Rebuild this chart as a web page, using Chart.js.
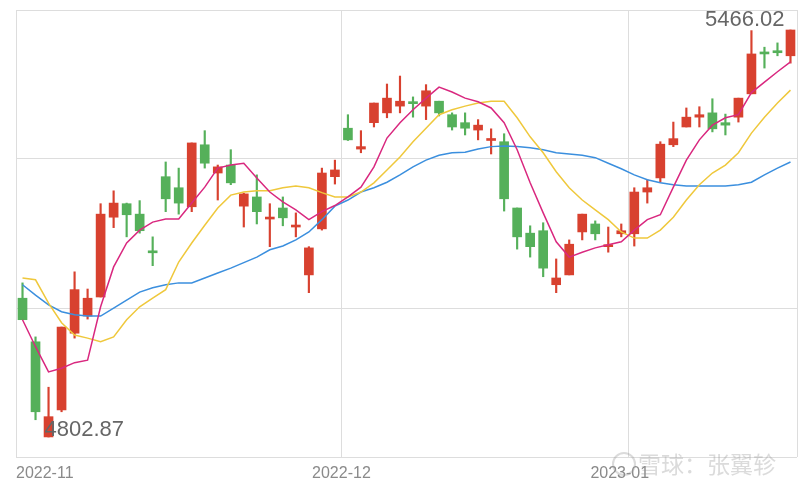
<!DOCTYPE html>
<html><head><meta charset="utf-8">
<script src="https://cdn.jsdelivr.net/npm/chart.js@4/dist/chart.umd.min.js"></script>
<style>html,body{margin:0;padding:0;background:#fff}</style>
</head><body><canvas id="c" width="800" height="491"></canvas>
<script>
const openP =[5029,4958,4803,4847,4972,5000,5031,5161,5183,5166,5106,5227,5209,5178,5279,5233,5246,5179,5194,5158,5176,5145,5067,5142,5227,5306,5272,5315,5331,5342,5348,5342,5350,5328,5315,5303,5286,5284,5176,5135,5139,5051,5067,5137,5150,5113,5134,5134,5202,5225,5279,5308,5324,5331,5315,5324,5362,5430,5432,5424];
const closeP=[4994,4844,4836,4982,5043,5029,5166,5184,5165,5139,5103,5191,5184,5282,5249,5243,5217,5199,5170,5161,5160,5148,5111,5233,5238,5287,5276,5347,5355,5350,5346,5367,5331,5308,5306,5311,5289,5191,5129,5113,5078,5062,5117,5166,5134,5116,5139,5202,5209,5280,5289,5324,5328,5305,5311,5355,5427,5427,5429,5466.02];
const highP =[5054,4966,4884,4982,5072,5044,5183,5204,5184,5188,5129,5251,5241,5282,5302,5246,5271,5200,5230,5183,5194,5168,5113,5241,5254,5328,5302,5347,5378,5391,5357,5377,5350,5331,5331,5320,5305,5297,5176,5147,5152,5093,5124,5166,5155,5145,5150,5209,5222,5284,5316,5339,5341,5354,5329,5355,5465,5438,5445,5466.02];
const lowP  =[4994,4831,4802.87,4844,4964,4995,5031,5144,5129,5135,5082,5170,5166,5170,5241,5189,5214,5145,5150,5113,5147,5129,5038,5140,5215,5286,5266,5308,5323,5331,5324,5320,5326,5303,5295,5287,5264,5171,5109,5096,5064,5038,5067,5124,5124,5104,5129,5114,5184,5218,5276,5308,5308,5300,5295,5316,5362,5404,5424,5412];
const ma5 =[4994,4950,4909,4915,4924,4928,5015,5080,5119,5140,5153,5158,5158,5184,5210,5241,5246,5249,5225,5202,5186,5173,5157,5170,5180,5194,5210,5243,5290,5315,5336,5355,5373,5365,5355,5349,5339,5315,5271,5217,5168,5121,5096,5104,5111,5116,5121,5140,5157,5165,5210,5254,5287,5311,5323,5328,5364,5381,5398,5414];
const ma10=[5062,5059,5021,4989,4969,4964,4958,4966,4994,5015,5029,5043,5088,5119,5148,5176,5197,5202,5204,5204,5209,5212,5209,5201,5194,5194,5202,5217,5238,5259,5284,5306,5328,5336,5342,5347,5350,5350,5323,5292,5266,5235,5209,5189,5173,5157,5137,5127,5127,5140,5161,5189,5214,5233,5246,5266,5298,5324,5347,5368];
const ma20=[5051,5034,5018,5007,5002,5000,5000,5013,5026,5039,5046,5051,5054,5054,5062,5070,5078,5087,5096,5108,5114,5124,5137,5157,5179,5189,5202,5209,5218,5230,5243,5254,5262,5266,5267,5272,5276,5277,5276,5274,5271,5266,5264,5262,5258,5249,5240,5230,5222,5217,5214,5212,5212,5212,5212,5214,5218,5230,5241,5251];
const monthLabels=["2022-11","2022-12","2023-01"];
const monthStarts=[0,25,47];
const hiIdx=59, loIdx=2;

const labels=openP.map((_,i)=>i);
const RED='#d8412f', GREEN='#55b05a';
const col=openP.map((o,i)=>closeP[i]>=o?RED:GREEN);
const yMin=4770.3, yMax=5498.6;

const overlay={id:'ov',
 beforeDatasetsDraw(ch){
  const c=ch.ctx,a=ch.chartArea;
  c.save();c.strokeStyle='#dddddd';c.lineWidth=1;
  [...monthStarts,openP.length].forEach(m=>{
    const x=Math.round(a.left+(a.right-a.left)*m/openP.length)+0.5;
    c.beginPath();c.moveTo(x,a.top);c.lineTo(x,a.bottom);c.stroke();
  });
  c.restore();
 },
 afterDraw(ch){
  const c=ch.ctx,xs=ch.scales.x,ys=ch.scales.y,a=ch.chartArea;
  c.save();
  c.font='16px "Liberation Sans", Arial';c.fillStyle='#8a8a8a';c.textBaseline='middle';
  monthStarts.forEach((m,k)=>{
    const x=a.left+(a.right-a.left)*m/openP.length;
    c.textAlign=k===0?'left':'center';
    c.fillText(monthLabels[k],k===0?a.left:(k===2?x-8:x),a.bottom+17);
  });
  c.font='22px "Liberation Sans", Arial';c.fillStyle='#666';
  c.textAlign='right';c.fillText(highP[hiIdx].toFixed(2),xs.getPixelForValue(hiIdx)-6,ys.getPixelForValue(highP[hiIdx])-10);
  c.textAlign='left';c.fillText(lowP[loIdx].toFixed(2),xs.getPixelForValue(loIdx)-4,ys.getPixelForValue(lowP[loIdx])-7);
  c.globalAlpha=0.35;c.fillStyle='#999';c.font='23px "Noto Sans CJK SC"';
  c.fillText('雪球：张翼轸',638,464);
  c.strokeStyle='#999';c.lineWidth=2;c.beginPath();c.arc(624,464,11,0,Math.PI*2);c.stroke();
  c.restore();
}};

new Chart(document.getElementById('c'),{
  type:'bar',
  data:{labels,datasets:[
    {type:'line',data:ma5,borderColor:'#d9287f',borderWidth:1.5,pointRadius:0,tension:0,order:0},
    {type:'line',data:ma10,borderColor:'#efc83c',borderWidth:1.5,pointRadius:0,tension:0,order:0},
    {type:'line',data:ma20,borderColor:'#3b8fde',borderWidth:1.5,pointRadius:0,tension:0,order:0},
    {data:openP.map((o,i)=>[lowP[i],highP[i]]),backgroundColor:col,barThickness:1.5,grouped:false,order:2},
    {data:openP.map((o,i)=>[o,closeP[i]]),backgroundColor:col,barThickness:9,minBarLength:2,grouped:false,order:1}
  ]},
  options:{responsive:false,animation:false,devicePixelRatio:1,
    layout:{padding:{left:16,top:10,right:3,bottom:34}},
    plugins:{legend:{display:false},tooltip:{enabled:false}},
    scales:{
      x:{display:false,offset:true},
      y:{display:true,min:yMin,max:yMax,
        afterBuildTicks(s){s.ticks=[0,1,2,3].map(k=>({value:yMin+(yMax-yMin)*k/3}));},
        ticks:{display:false},grid:{color:'#dddddd',drawTicks:false},border:{color:'#dddddd'}}
    }},
  plugins:[overlay]
});
</script></body></html>
